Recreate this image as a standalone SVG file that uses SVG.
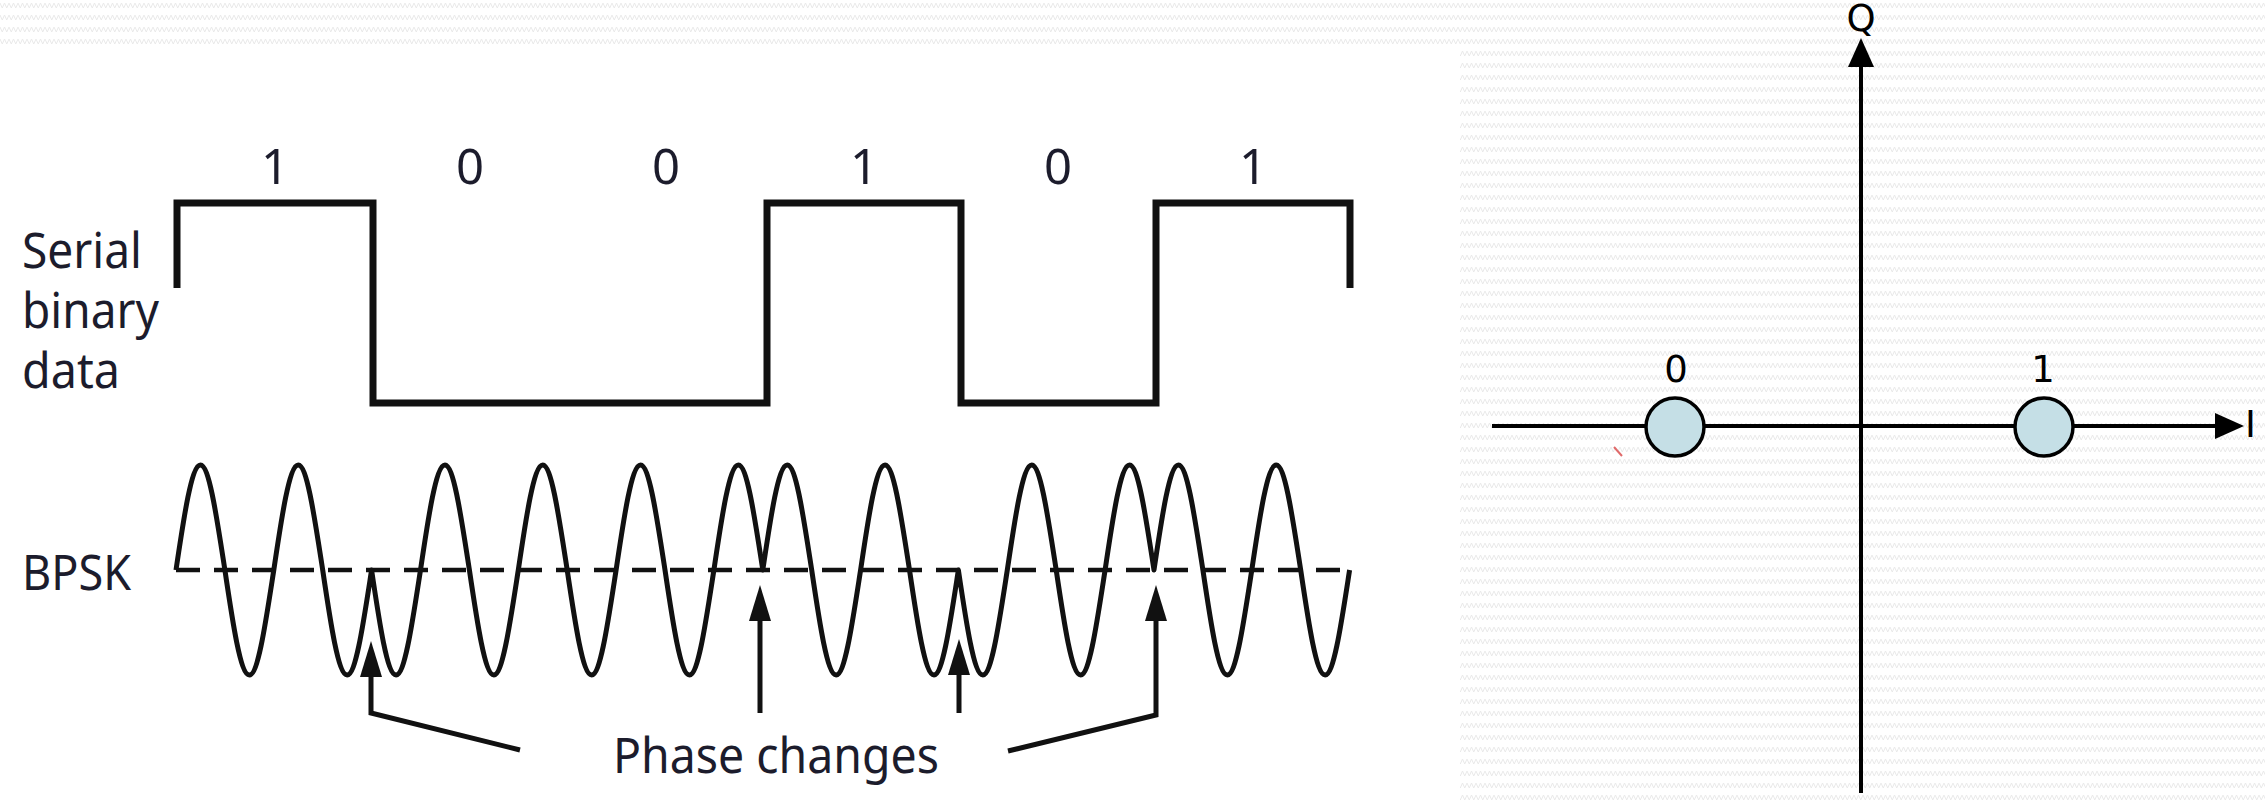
<svg xmlns="http://www.w3.org/2000/svg" width="2265" height="806" viewBox="0 0 2265 806">
  <defs>
    <pattern id="zig" width="9" height="12" patternUnits="userSpaceOnUse">
      <path d="M0,3 L2.25,8 L4.5,3 L6.75,8 L9,3" fill="none" stroke="#e9e9e9" stroke-width="1"/>
    </pattern>
    <marker id="ah" markerUnits="userSpaceOnUse" markerWidth="40" markerHeight="24" refX="1" refY="11" orient="auto" viewBox="0 0 40 24">
      <path d="M0,0 L36,11 L0,22 z" fill="#111"/>
    </marker>
    <marker id="axh" markerUnits="userSpaceOnUse" markerWidth="32" markerHeight="28" refX="1" refY="13" orient="auto" viewBox="0 0 32 28">
      <path d="M0,0 L29,13 L0,26 z" fill="#000"/>
    </marker>
    <style>
      .lbl { font-family: "Noto Sans", "Open Sans", sans-serif; font-size: 49px; fill: #1c1c2c; }
      .bit { font-family: "Noto Sans", "Open Sans", sans-serif; font-size: 49px; fill: #1c1c2c; text-anchor: middle; }
      .ax { font-family: "DejaVu Sans", sans-serif; font-size: 37px; fill: #000; }
      .thick { fill: none; stroke: #111; stroke-width: 7; stroke-linejoin: miter; }
      .wave { fill: none; stroke: #111; stroke-width: 5; stroke-linejoin: round; }
      .dash { fill: none; stroke: #111; stroke-width: 4.5; stroke-dasharray: 24 14; }
      .arr { fill: none; stroke: #111; stroke-width: 5; stroke-linejoin: miter; }
      .axis { fill: none; stroke: #000; stroke-width: 4; }
      .pt { fill: #c5dfe6; stroke: #000; stroke-width: 3.5; }
    </style>
  </defs>

  <rect x="0" y="0" width="2265" height="806" fill="#ffffff"/>
  <rect x="0" y="0" width="2265" height="45" fill="url(#zig)"/>
  <rect x="1460" y="45" width="805" height="761" fill="url(#zig)"/>

  <g id="labels-left">
    <text class="lbl" x="22" y="268" textLength="120" lengthAdjust="spacingAndGlyphs">Serial</text>
    <text class="lbl" x="22" y="328" textLength="137" lengthAdjust="spacingAndGlyphs">binary</text>
    <text class="lbl" x="22" y="388" textLength="98" lengthAdjust="spacingAndGlyphs">data</text>
    <text class="lbl" x="22" y="590" textLength="109" lengthAdjust="spacingAndGlyphs">BPSK</text>
  </g>

  <g id="bit-labels">
    <text class="bit" x="275" y="184">1</text>
    <text class="bit" x="470" y="184">0</text>
    <text class="bit" x="666" y="184">0</text>
    <text class="bit" x="864" y="184">1</text>
    <text class="bit" x="1058" y="184">0</text>
    <text class="bit" x="1253" y="184">1</text>
  </g>

  <g id="serial-data">
    <path class="thick" d="M177,288 L177,203 L373,203 L373,403 L767,403 L767,203 L961,203 L961,403 L1156,403 L1156,203 L1350,203 L1350,288"/>
  </g>

  <g id="bpsk">
    <path class="dash" d="M176,570 L1350,570"/>
    <path class="wave" d="M176,570
      c7.97,-53.79 15.6,-105 24.45,-105 c8.85,0 16.48,53.79 24.45,105 c7.97,53.79 15.6,105 24.45,105 c8.85,0 16.48,-53.79 24.45,-105
      c7.97,-53.79 15.6,-105 24.45,-105 c8.85,0 16.48,53.79 24.45,105 c7.97,53.79 15.6,105 24.45,105 c8.85,0 16.48,-53.79 24.45,-105
      c7.97,53.79 15.6,105 24.45,105 c8.85,0 16.48,-53.79 24.45,-105 c7.97,-53.79 15.6,-105 24.45,-105 c8.85,0 16.48,53.79 24.45,105
      c7.97,53.79 15.6,105 24.45,105 c8.85,0 16.48,-53.79 24.45,-105 c7.97,-53.79 15.6,-105 24.45,-105 c8.85,0 16.48,53.79 24.45,105
      c7.97,53.79 15.6,105 24.45,105 c8.85,0 16.48,-53.79 24.45,-105 c7.97,-53.79 15.6,-105 24.45,-105 c8.85,0 16.48,53.79 24.45,105
      c7.97,53.79 15.6,105 24.45,105 c8.85,0 16.48,-53.79 24.45,-105 c7.97,-53.79 15.6,-105 24.45,-105 c8.85,0 16.48,53.79 24.45,105
      c7.97,-53.79 15.6,-105 24.45,-105 c8.85,0 16.48,53.79 24.45,105 c7.97,53.79 15.6,105 24.45,105 c8.85,0 16.48,-53.79 24.45,-105
      c7.97,-53.79 15.6,-105 24.45,-105 c8.85,0 16.48,53.79 24.45,105 c7.97,53.79 15.6,105 24.45,105 c8.85,0 16.48,-53.79 24.45,-105
      c7.97,53.79 15.6,105 24.45,105 c8.85,0 16.48,-53.79 24.45,-105 c7.97,-53.79 15.6,-105 24.45,-105 c8.85,0 16.48,53.79 24.45,105
      c7.97,53.79 15.6,105 24.45,105 c8.85,0 16.48,-53.79 24.45,-105 c7.97,-53.79 15.6,-105 24.45,-105 c8.85,0 16.48,53.79 24.45,105
      c7.97,-53.79 15.6,-105 24.45,-105 c8.85,0 16.48,53.79 24.45,105 c7.97,53.79 15.6,105 24.45,105 c8.85,0 16.48,-53.79 24.45,-105
      c7.97,-53.79 15.6,-105 24.45,-105 c8.85,0 16.48,53.79 24.45,105 c7.97,53.79 15.6,105 24.45,105 c8.85,0 16.48,-53.79 24.45,-105"/>
  </g>

  <g id="phase-changes-label">
    <text class="lbl" x="613" y="773" textLength="326" lengthAdjust="spacingAndGlyphs">Phase changes</text>
  </g>

  <g id="connectors">
    <path class="arr" d="M520,750 L371,713 L371,676" marker-end="url(#ah)"/>
    <path class="arr" d="M760,713 L760,620" marker-end="url(#ah)"/>
    <path class="arr" d="M959,713 L959,674" marker-end="url(#ah)"/>
    <path class="arr" d="M1008,751 L1156,715 L1156,620" marker-end="url(#ah)"/>
  </g>

  <g id="constellation">
    <g id="q-axis">
      <path class="axis" d="M1861,793 L1861,66" marker-end="url(#axh)"/>
      <text class="ax" x="1861" y="31" text-anchor="middle">Q</text>
    </g>
    <g id="i-axis">
      <path class="axis" d="M1492,426 L2216,426" marker-end="url(#axh)"/>
      <text class="ax" x="2245" y="437">I</text>
    </g>
    <g id="point-0">
      <circle class="pt" cx="1675" cy="427" r="29"/>
      <text class="ax" x="1676" y="382" text-anchor="middle">0</text>
    </g>
    <g id="point-1">
      <circle class="pt" cx="2044" cy="427" r="29"/>
      <text class="ax" x="2043" y="382" text-anchor="middle">1</text>
    </g>
    <path d="M1614,447 L1622,456" stroke="#e06a6a" stroke-width="2" fill="none"/>
  </g>
</svg>
